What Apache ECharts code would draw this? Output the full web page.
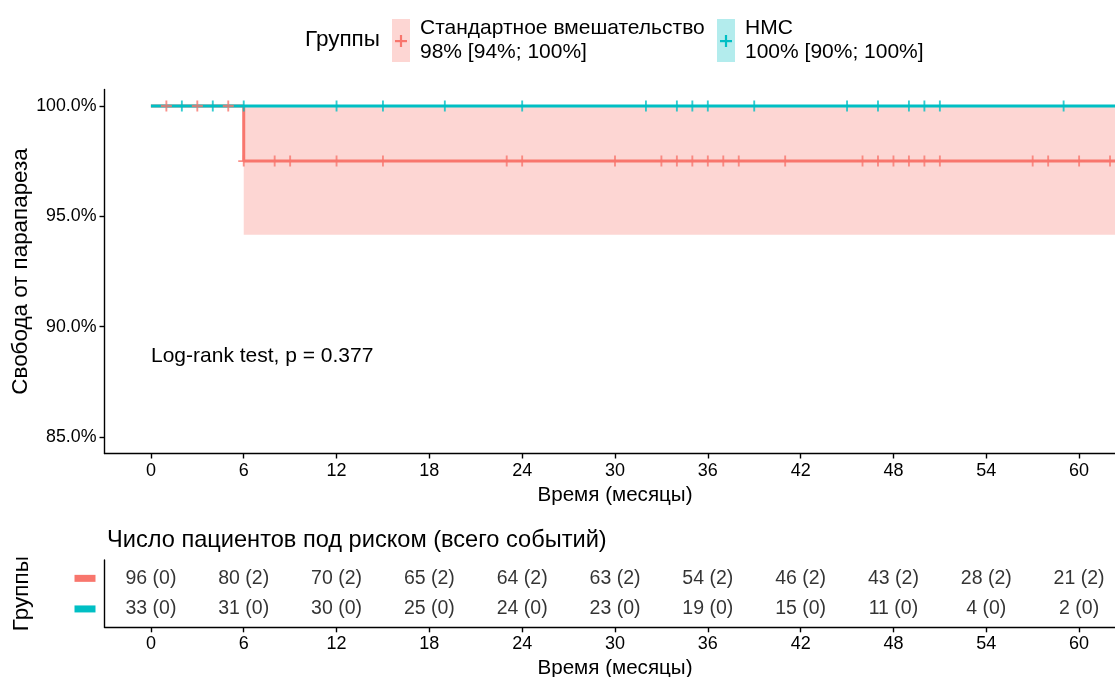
<!DOCTYPE html>
<html>
<head>
<meta charset="utf-8">
<script src="https://cdn.jsdelivr.net/npm/echarts@6/dist/echarts.min.js"></script>
<style>
html,body{margin:0;padding:0;background:#fff;}
#chart{width:1115px;height:677px;}
</style>
</head>
<body>
<div id="chart"></div>
<script>
// ---------- data ----------
const groupNames = ['Стандартное вмешательство', 'НМС'];
const groupSummaries = ['98% [94%; 100%]', '100% [90%; 100%]'];
const colors = ['#F8766D', '#00BFC4'];
const bandColors = ['#FDD6D3', '#B3ECED'];

const xTicks = [0, 6, 12, 18, 24, 30, 36, 42, 48, 54, 60];
const yTicks = [85, 90, 95, 100];

// Kaplan–Meier step data (percent)
const redTimes = [0, 6];
const redSurv = [100, 97.5];
const redLower = [100, 94.16];
const redUpper = [100, 100];
const tealTimes = [0];
const tealSurv = [100];
const lastFollowUp = 65; // follow-up continues beyond the visible panel

// censoring times (months)
const redCensor = [1, 3, 5, 6, 8, 9, 12, 15, 23, 24, 30, 33, 34, 35, 36, 37, 38, 41, 46, 47, 48, 49, 50, 51, 57, 58, 60, 62];
const tealCensor = [2, 4, 6, 12, 15, 19, 24, 32, 34, 35, 36, 39, 45, 47, 49, 50, 51, 59];

// risk table
const riskTimes = [0, 6, 12, 18, 24, 30, 36, 42, 48, 54, 60];
const redAtRisk = [96, 80, 70, 65, 64, 63, 54, 46, 43, 28, 21];
const redEvents = [0, 2, 2, 2, 2, 2, 2, 2, 2, 2, 2];
const tealAtRisk = [33, 31, 30, 25, 24, 23, 19, 15, 11, 4, 2];
const tealEvents = [0, 0, 0, 0, 0, 0, 0, 0, 0, 0, 0];

const pValueText = 'Log-rank test, p = 0.377';
const riskTitle = 'Число пациентов под риском (всего событий)';

// ---------- helpers ----------
function stepData(times, vals, end) {
  const d = times.map((t, i) => [t, vals[i]]);
  d.push([end, vals[vals.length - 1]]);
  return d;
}
function survAt(times, vals, t) {
  let v = vals[0];
  for (let i = 0; i < times.length; i++) if (times[i] <= t) v = vals[i];
  return v;
}
// ribbon intervals: [start, end, lower, upper]
function ribbonData(times, lower, upper, end) {
  return times.map((t, i) => [t, i + 1 < times.length ? times[i + 1] : end, lower[i], upper[i]]);
}
const FONT = '"Liberation Sans", Arial, sans-serif';
const PLUS = 'path://M4.15,0H5.85V10H4.15Z M0,4.15H10V5.85H0Z';

const riskSeriesData = [];
riskTimes.forEach((t, i) => {
  riskSeriesData.push({ value: [t, 2], txt: redAtRisk[i] + ' (' + redEvents[i] + ')' });
  riskSeriesData.push({ value: [t, 1], txt: tealAtRisk[i] + ' (' + tealEvents[i] + ')' });
});

const axisLineStyle = { color: '#000', width: 1.4 };
const tickStyle = { color: '#000', width: 1.4 };

const chart = echarts.init(document.getElementById('chart'));

function legendItem(x, idx) {
  return [
    { type: 'rect', shape: { x: x, y: 19, width: 18, height: 43 }, style: { fill: bandColors[idx] } },
    { type: 'rect', shape: { x: x + 3, y: 40, width: 12, height: 2.2 }, style: { fill: colors[idx] } },
    { type: 'rect', shape: { x: x + 7.9, y: 35, width: 2.2, height: 12 }, style: { fill: colors[idx] } },
    { type: 'text', left: x + 28, top: 18, style: { text: groupNames[idx], font: '21px ' + FONT, fill: '#000' } },
    { type: 'text', left: x + 28, top: 42, style: { text: groupSummaries[idx], font: '21px ' + FONT, fill: '#000' } }
  ];
}

const option = {
  animation: false,
  backgroundColor: '#fff',
  textStyle: { fontFamily: FONT },
  title: {
    text: riskTitle, left: 102, top: 523,
    textStyle: { fontSize: 23.6, fontWeight: 'normal', color: '#000', fontFamily: FONT }
  },
  graphic: [
    { type: 'text', left: 305, top: 28, style: { text: 'Группы', font: '22.5px ' + FONT, fill: '#000' } },
    ...legendItem(392, 0),
    ...legendItem(717, 1),
    { type: 'text', left: 151, top: 346, style: { text: pValueText, font: '21px ' + FONT, fill: '#000' } }
  ],
  grid: [
    { left: 104.5, width: 1021, top: 89.4, height: 364.1, containLabel: false, outerBoundsMode: 'none' },
    { left: 104.5, width: 1021, top: 560, height: 67.3, containLabel: false, outerBoundsMode: 'none' }
  ],
  xAxis: [
    {
      gridIndex: 0, type: 'value', min: -3, max: 63,
      name: 'Время (месяцы)', nameLocation: 'middle', nameGap: 31, nameMoveOverlap: false,
      nameTextStyle: { fontSize: 20.6, color: '#000' },
      axisLine: { onZero: false, lineStyle: axisLineStyle },
      axisTick: { show: true, length: 5, lineStyle: tickStyle, customValues: xTicks },
      axisLabel: { fontSize: 18, color: '#000', margin: 9, customValues: xTicks },
      splitLine: { show: false }
    },
    {
      gridIndex: 1, type: 'value', min: -3, max: 63,
      name: 'Время (месяцы)', nameLocation: 'middle', nameGap: 31, nameMoveOverlap: false,
      nameTextStyle: { fontSize: 20.6, color: '#000' },
      axisLine: { onZero: false, lineStyle: axisLineStyle },
      axisTick: { show: true, length: 5, lineStyle: tickStyle, customValues: xTicks },
      axisLabel: { fontSize: 18, color: '#000', margin: 8, customValues: xTicks },
      splitLine: { show: false }
    }
  ],
  yAxis: [
    {
      gridIndex: 0, type: 'value', min: 84.25, max: 100.75,
      name: 'Свобода от парапареза', nameLocation: 'middle', nameGap: 73, nameRotate: 90,
      nameMoveOverlap: false,
      nameTextStyle: { fontSize: 22.4, color: '#000' },
      axisLine: { show: true, onZero: false, lineStyle: axisLineStyle },
      axisTick: { show: true, length: 5, lineStyle: tickStyle, customValues: yTicks },
      axisLabel: { fontSize: 17.8, color: '#000', margin: 8, customValues: yTicks,
        formatter: v => v.toFixed(1) + '%' },
      splitLine: { show: false }
    },
    {
      gridIndex: 1, type: 'value', min: 0.4, max: 2.6,
      name: 'Группы', nameLocation: 'middle', nameGap: 71, nameRotate: 90,
      nameMoveOverlap: false,
      nameTextStyle: { fontSize: 22.5, color: '#000' },
      axisLine: { show: true, onZero: false, lineStyle: axisLineStyle },
      axisTick: { show: false },
      axisLabel: {
        margin: 9, customValues: [1, 2],
        formatter: v => (v === 2 ? '{r|}' : '{t|}'),
        rich: {
          r: { width: 21, height: 7, backgroundColor: colors[0] },
          t: { width: 21, height: 7, backgroundColor: colors[1] }
        }
      },
      splitLine: { show: false }
    }
  ],
  series: [
    {
      name: 'ci', type: 'custom', xAxisIndex: 0, yAxisIndex: 0, silent: true, clip: true,
      data: ribbonData(redTimes, redLower, redUpper, lastFollowUp),
      renderItem: function (params, api) {
        const p0 = api.coord([api.value(0), api.value(3)]);
        const p1 = api.coord([api.value(1), api.value(2)]);
        const shape = echarts.graphic.clipRectByRect(
          { x: p0[0], y: p0[1], width: p1[0] - p0[0], height: p1[1] - p0[1] },
          { x: params.coordSys.x, y: params.coordSys.y, width: params.coordSys.width, height: params.coordSys.height });
        return shape && { type: 'rect', shape: shape, style: { fill: bandColors[0] } };
      },
      z: 1
    },
    {
      name: groupNames[0], type: 'line', xAxisIndex: 0, yAxisIndex: 0, step: 'end',
      data: stepData(redTimes, redSurv, lastFollowUp), symbol: 'none',
      lineStyle: { color: colors[0], width: 3 }, clip: true, z: 2
    },
    {
      name: groupNames[1], type: 'line', xAxisIndex: 0, yAxisIndex: 0, step: 'end',
      data: stepData(tealTimes, tealSurv, lastFollowUp), symbol: 'none',
      lineStyle: { color: colors[1], width: 3 }, clip: true, z: 3
    },
    {
      name: 'cens-red', type: 'scatter', xAxisIndex: 0, yAxisIndex: 0,
      data: redCensor.map(t => [t, survAt(redTimes, redSurv, t)]),
      symbol: PLUS, symbolSize: 11, itemStyle: { color: colors[0] }, clip: true, z: 4
    },
    {
      name: 'cens-teal', type: 'scatter', xAxisIndex: 0, yAxisIndex: 0,
      data: tealCensor.map(t => [t, survAt(tealTimes, tealSurv, t)]),
      symbol: PLUS, symbolSize: 11, itemStyle: { color: colors[1] }, clip: true, z: 5
    },
    {
      name: 'risk', type: 'scatter', xAxisIndex: 1, yAxisIndex: 1,
      data: riskSeriesData, symbolSize: 0,
      label: {
        show: true, position: 'inside', fontSize: 19.5, color: '#000',
        formatter: p => p.data.txt
      }
    }
  ]
};
chart.setOption(option);
</script>
</body>
</html>
